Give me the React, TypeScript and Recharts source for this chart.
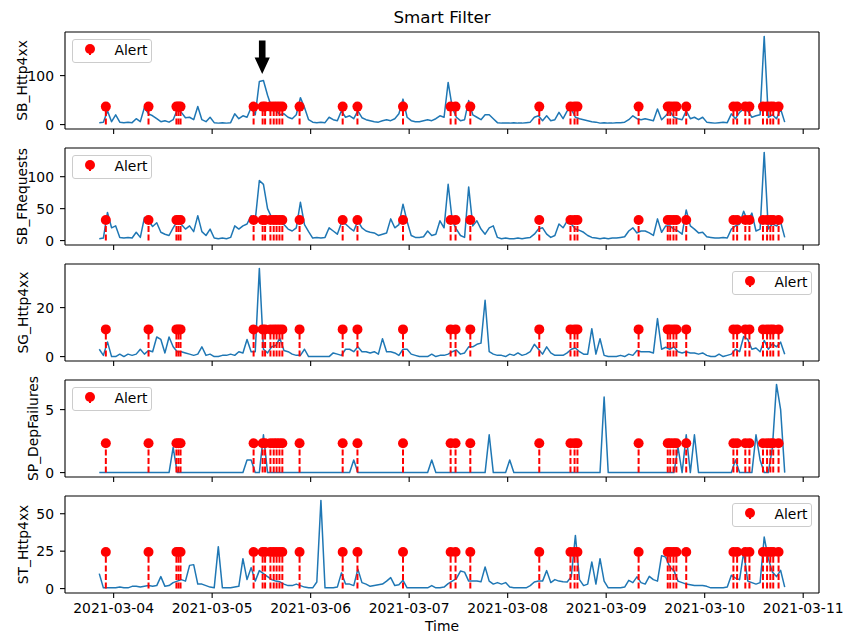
import React from "react";
import { ComposedChart, Line, Scatter, XAxis, YAxis, ReferenceLine, ReferenceDot } from "recharts";

// hourly samples starting 2021-03-03 20:30 UTC
const START = Date.UTC(2021, 2, 3, 20, 30);
const HOUR = 3600 * 1000;
const DAY0 = Date.UTC(2021, 2, 4);

const sbHttp4xx = [
  4, 5, 28, 6, 20, 5, 4, 5, 4, 12,
  6, 35, 22, 18, 12, 6, 8, 5, 10, 30,
  25, 14, 15, 10, 37, 10, 6, 15, 4, 3,
  4, 3, 4, 22, 12, 18, 15, 35, 20, 88,
  90, 60, 35, 30, 20, 22, 15, 12, 20, 55,
  35, 10, 5, 4, 5, 4, 15, 10, 8, 28,
  15, 18, 12, 28, 14, 10, 8, 6, 5, 8,
  10, 8, 12, 22, 52, 15, 8, 6, 6, 8,
  10, 8, 12, 18, 15, 86, 35, 15, 8, 10,
  49, 20, 15, 10, 20, 20, 12, 4, 3, 3,
  3, 4, 3, 3, 4, 5, 15, 18, 8, 18,
  8, 10, 25, 12, 28, 32, 15, 12, 10, 8,
  6, 5, 3, 4, 3, 3, 4, 4, 5, 10,
  18, 12, 10, 12, 10, 8, 32, 10, 18, 28,
  15, 12, 10, 28, 12, 15, 10, 15, 5, 4,
  3, 4, 5, 4, 22, 12, 25, 32, 28, 15,
  18, 20, 180, 15, 20, 12, 32, 5,
];

const sbFRequests = [
  3, 4, 44, 20, 23, 5, 4, 5, 4, 13,
  5, 36, 31, 22, 28, 13, 10, 8, 20, 30,
  25, 18, 23, 14, 39, 14, 8, 18, 4, 3,
  4, 3, 5, 23, 18, 23, 26, 39, 32, 94,
  88, 50, 36, 39, 30, 25, 18, 15, 20, 60,
  25, 14, 4, 5, 4, 5, 20, 15, 10, 28,
  26, 20, 15, 31, 20, 15, 13, 12, 8, 10,
  12, 34, 20, 25, 57, 30, 8, 5, 5, 6,
  15, 8, 10, 31, 20, 88, 31, 18, 8, 5,
  84, 23, 31, 18, 10, 20, 23, 5, 3, 4,
  3, 3, 4, 3, 4, 5, 10, 18, 20, 10,
  5, 8, 26, 20, 31, 26, 18, 16, 13, 8,
  5, 4, 3, 4, 3, 4, 4, 5, 6, 15,
  20, 12, 15, 15, 12, 8, 34, 13, 23, 23,
  18, 15, 10, 48, 23, 18, 12, 13, 6, 5,
  4, 4, 5, 4, 18, 23, 26, 46, 30, 43,
  15, 18, 138, 18, 26, 23, 29, 5,
];

const sgHttp4xx = [
  3, 0.5, 6, 0, 0, 1, 0, 1, 0.5, 1,
  3, 1, 2.5, 2, 8, 7, 1.5, 8, 4, 2,
  2, 1.5, 1, 0.5, 1, 4, 0.5, 1, 0, 0,
  0.5, 0.5, 1, 0.5, 2, 1.5, 7, 2, 2, 36,
  3, 1.5, 4, 4.5, 7.5, 2.5, 2, 1, 0.5, 0.5,
  3, 0, 0, 0, 0, 0, 0, 1.5, 1, 0.5,
  3, 3, 2, 4, 2, 2, 1.5, 2, 1, 7.3,
  2, 2, 1.5, 0.5, 3, 3, 1, 0.5, 0, 0,
  0, 1, 0, 0.5, 0.5, 1, 2, 2.7, 1, 1.5,
  4, 4, 5, 5.5, 23, 2, 1, 0.5, 0.5, 0,
  1, 0.5, 1.5, 0.5, 1, 2, 5, 3, 1, 4,
  1.5, 0.5, 0.5, 0.5, 1.5, 3, 3.5, 2, 1, 1,
  11.4, 1, 7.3, 0.5, 0, 0, 0, 0.5, 0, 1,
  0.5, 2.5, 2, 2, 2, 1.5, 15.5, 3, 3.8, 3,
  4, 2, 1.5, 2, 1.5, 1.5, 1, 1.5, 0.5, 0,
  0, 1, 0, 0.5, 1, 3, 2, 8.2, 7, 3,
  3.5, 2, 6.6, 3, 5.2, 4, 5.9, 1,
];

const spDepFailures = [
  0, 0, 0, 0, 0, 0, 0, 0, 0, 0,
  0, 0, 0, 0, 0, 0, 0, 0, 2, 0,
  0, 0, 0, 0, 0, 0, 0, 0, 0, 0,
  0, 0, 0, 0, 0, 0, 1, 1, 0, 0,
  3, 0, 0, 0, 0, 0, 0, 0, 0, 0,
  0, 0, 0, 0, 0, 0, 0, 0, 0, 0,
  0, 0, 1, 0, 0, 0, 0, 0, 0, 0,
  0, 0, 0, 0, 0, 0, 0, 0, 0, 0,
  0, 1, 0, 0, 0, 0, 0, 0, 0, 0,
  0, 0, 0, 0, 0, 3, 0, 0, 0, 0,
  1, 0, 0, 0, 0, 0, 0, 0, 0, 0,
  0, 0, 0, 0, 0, 0, 0, 0, 0, 0,
  0, 0, 0, 6, 0, 0, 0, 0, 0, 0,
  0, 0, 0, 0, 0, 0, 0, 0, 0, 0,
  0, 2, 0, 3, 0, 3, 0, 0, 0, 0,
  0, 0, 0, 0, 0, 1, 0, 0, 0, 0,
  3, 1, 0, 0, 2, 7, 5, 0,
];

const stHttp4xx = [
  10, 0.5, 0.5, 0.5, 0.5, 1, 0.5, 0.5, 1.5, 1.5,
  1, 1.5, 2, 1.5, 2, 8, 1.5, 2, 4, 5,
  6, 5, 15.5, 16, 3, 3, 2, 1, 0.5, 28,
  0.5, 0.5, 0.5, 1, 1.5, 20, 6, 14, 5, 12,
  10, 8, 6, 5, 4.5, 3, 2, 2, 3, 2,
  1, 0.5, 0.5, 4.4, 58.9, 0.5, 0.5, 0.5, 1, 10.5,
  3, 3, 2, 13, 4, 3, 1.5, 2, 2.5, 3,
  5, 7.3, 2, 2.5, 5.5, 0.5, 0.5, 0.5, 0.5, 0.5,
  0.5, 2, 0.5, 0.5, 1, 3.3, 5, 6.6, 11.7, 11,
  5, 5, 5, 4.5, 14.4, 5, 3, 4, 3, 4,
  1, 0.5, 0.5, 0.5, 0.5, 2, 4.4, 5, 5, 12,
  4, 6, 5, 4.5, 4.4, 8, 35.5, 6, 2, 3,
  17.8, 3, 20, 5, 0.5, 0.5, 0.5, 0.5, 1, 5.5,
  4, 7.8, 4, 3, 8.2, 6, 5, 22, 21, 14.4,
  12, 5, 4, 3, 2.5, 2, 2, 2, 1.5, 0.5,
  0.5, 0.5, 0.5, 1, 8.9, 7, 6, 24.4, 5, 4,
  3, 4, 34.4, 20, 11, 8, 12.2, 1,
];

// alert times, hours after 2021-03-04 00:00
const alertHours = [
  -1.9, 8.5, 15.3, 15.8, 16.3, 34.1, 36.3, 36.9, 38.2, 39.0, 39.7, 40.4, 41.1,
  45.3, 55.8, 59.4, 70.5, 82.1, 83.3, 86.9, 103.7, 111.3, 112.3, 113.0, 127.9,
  135.0, 135.6, 136.4, 137.1, 139.5, 151.0, 151.9, 153.9, 154.9, 158.2, 159.2,
  160.0, 160.7, 162.0,
];
const alertLevels = [36.7, 32.3, 11.1, 2.33, 24.5];

const seriesNames = ["SB_Http4xx", "SB_FRequests", "SG_Http4xx", "SP_DepFailures", "ST_Http4xx"];
const seriesValues = [sbHttp4xx, sbFRequests, sgHttp4xx, spDepFailures, stHttp4xx];
const yTicks = [[0, 100], [0, 50, 100], [0, 20], [0, 5], [0, 25, 50]];
const xTicks = [4, 5, 6, 7, 8, 9, 10, 11].map(d => Date.UTC(2021, 2, d));

// annotation arrow on the first panel
const arrowHour = 36.2;
const arrowValue = 103.5;

// layout
const FIG_W = 843;
const FIG_H = 637;
const PLOT_LEFT = 65;
const PLOT_RIGHT = 819;
const PLOT_H = 97;
const PANEL_TOP = [32, 148, 264, 380, 496];
const LABEL_BASE_X = [27, 27, 28, 38, 28];
const LEGEND_SIDE = ["left", "left", "right", "left", "right"];
const FONT = 13.9;
const BLUE = "#1f77b4";
const RED = "#ff0000";
const MARKER_R = 5;

function fmtDate(t: number) {
  const d = new Date(t);
  const mm = String(d.getUTCMonth() + 1).padStart(2, "0");
  const dd = String(d.getUTCDate()).padStart(2, "0");
  return `${d.getUTCFullYear()}-${mm}-${dd}`;
}

const YLabel = ({ viewBox, text, base }: any) => {
  const vb = viewBox || { x: 0, y: 0, width: 0, height: PLOT_H };
  const x = vb.x + base;
  const y = vb.y + vb.height / 2;
  return (
    <text x={x} y={y} transform={`rotate(-90 ${x} ${y})`} textAnchor="middle"
      fontSize={FONT} fill="#000">
      {text}
    </text>
  );
};

const AlertDot = (p: any) => (
  <circle cx={p.cx} cy={p.cy} r={MARKER_R} fill={RED} />
);

const ArrowShape = ({ cx, cy }: any) => {
  const pts = [
    [cx, cy], [cx - 7.6, cy - 16.5], [cx - 3.3, cy - 16.5], [cx - 3.3, cy - 33.5],
    [cx + 3.3, cy - 33.5], [cx + 3.3, cy - 16.5], [cx + 7.6, cy - 16.5],
  ].map(p => p.join(",")).join(" ");
  return <polygon points={pts} fill="#000" />;
};

function AlertLegend({ side, top }: { side: string; top: number }) {
  const w = 80, h = 24;
  const left = side === "left" ? PLOT_LEFT + 7 : PLOT_RIGHT - 7 - w;
  return (
    <svg width={w} height={h} style={{ position: "absolute", left, top: top + 7 }}>
      <rect x={0.5} y={0.5} width={w - 1} height={h - 1} rx={2.5}
        fill="#fff" fillOpacity={0.8} stroke="#cccccc" />
      <line x1={18} x2={18} y1={10} y2={16} stroke={RED} strokeWidth={2} />
      <circle cx={18} cy={10} r={MARKER_R} fill={RED} />
      <text x={42.5} y={15.5} fontSize={FONT} fill="#000">Alert</text>
    </svg>
  );
}

function Panel({ idx }: { idx: number }) {
  const values = seriesValues[idx];
  const level = alertLevels[idx];
  const last = idx === seriesValues.length - 1;

  const rows = values.map((v, i) => ({ t: START + i * HOUR, v }));
  const alerts = alertHours.map(h => ({ t: DAY0 + h * HOUR, y: level }));

  const tMin = rows[0].t;
  const tMax = rows[rows.length - 1].t;
  const tPad = (tMax - tMin) * 0.05;
  const xDomain = [tMin - tPad, tMax + tPad];

  const lo = Math.min(0, ...values);
  const hi = Math.max(level, ...values);
  const yPad = (hi - lo) * 0.05;
  const yDomain = [lo - yPad, hi + yPad];

  const axisH = last ? 44 : 10;
  const axisStyle = { stroke: "#000", strokeWidth: 1.1 };

  return (
    <div style={{ position: "absolute", left: 0, top: PANEL_TOP[idx] - 5 }}>
      <ComposedChart width={FIG_W} height={5 + PLOT_H + axisH}
        margin={{ top: 5, right: FIG_W - PLOT_RIGHT, bottom: 0, left: 0 }}>
        <XAxis dataKey="t" type="number" domain={xDomain} ticks={xTicks} interval={0}
          allowDataOverflow height={axisH} tickSize={5} tickMargin={5.5}
          axisLine={axisStyle} tickLine={axisStyle}
          tick={{ fontSize: FONT, fill: "#000" }}
          tickFormatter={(t: number) => (last ? fmtDate(t) : "")}
          label={last ? { value: "Time", position: "insideBottom", offset: 6, fontSize: FONT, fill: "#000" } : undefined}
        />
        <YAxis type="number" domain={yDomain} ticks={yTicks[idx]} interval={0}
          allowDataOverflow width={PLOT_LEFT} tickSize={5} tickMargin={6}
          axisLine={axisStyle} tickLine={axisStyle}
          tick={{ fontSize: FONT, fill: "#000" }}
          label={<YLabel text={seriesNames[idx]} base={LABEL_BASE_X[idx]} />}
        />
        <ReferenceLine y={yDomain[1]} ifOverflow="visible" stroke="#000" strokeWidth={1.1} />
        <ReferenceLine x={xDomain[1]} ifOverflow="visible" stroke="#000" strokeWidth={1.1} />
        <Line data={rows} dataKey="v" type="linear" dot={false} activeDot={false}
          stroke={BLUE} strokeWidth={1.5} strokeLinejoin="round" isAnimationActive={false} />
        {alerts.map((a, i) => (
          <ReferenceLine key={i} segment={[{ x: a.t, y: 0 }, { x: a.t, y: a.y }]}
            ifOverflow="visible" stroke={RED} strokeWidth={2} strokeDasharray="6 2.6" />
        ))}
        <Scatter data={alerts} dataKey="y" shape={AlertDot} isAnimationActive={false} />
        {idx === 0 && (
          <ReferenceDot x={DAY0 + arrowHour * HOUR} y={arrowValue} ifOverflow="visible"
            shape={ArrowShape} />
        )}
      </ComposedChart>
    </div>
  );
}

export default function App() {
  return (
    <div style={{
      position: "absolute", left: 0, top: 0, width: FIG_W, height: FIG_H,
      background: "#fff", fontFamily: "'DejaVu Sans', sans-serif",
    }}>
      <div style={{
        position: "absolute", left: PLOT_LEFT, width: PLOT_RIGHT - PLOT_LEFT, top: 7,
        textAlign: "center", fontSize: 16.7, lineHeight: "20px", color: "#000",
      }}>
        Smart Filter
      </div>
      {seriesValues.map((_, i) => <Panel key={i} idx={i} />)}
      {LEGEND_SIDE.map((side, i) => <AlertLegend key={i} side={side} top={PANEL_TOP[i]} />)}
    </div>
  );
}
